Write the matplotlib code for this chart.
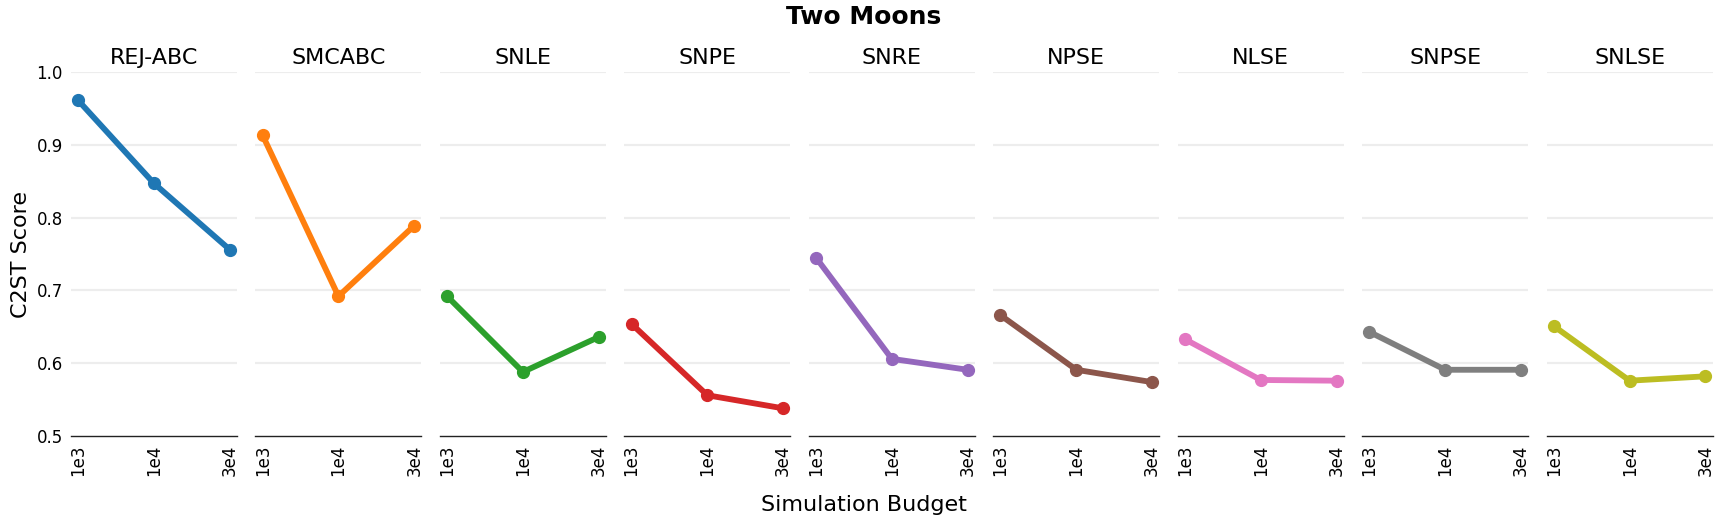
import matplotlib
matplotlib.use("Agg")
import matplotlib.pyplot as plt

methods = ["REJ-ABC", "SMCABC", "SNLE", "SNPE", "SNRE", "NPSE", "NLSE", "SNPSE", "SNLSE"]
budgets = ["1e3", "1e4", "3e4"]
scores = {
    "REJ-ABC": [0.961, 0.847, 0.756],
    "SMCABC":  [0.913, 0.692, 0.789],
    "SNLE":    [0.692, 0.588, 0.636],
    "SNPE":    [0.654, 0.556, 0.538],
    "SNRE":    [0.745, 0.606, 0.591],
    "NPSE":    [0.666, 0.591, 0.574],
    "NLSE":    [0.633, 0.577, 0.576],
    "SNPSE":   [0.643, 0.591, 0.591],
    "SNLSE":   [0.651, 0.576, 0.582],
}
colors = ["#1f77b4", "#ff7f0e", "#2ca02c", "#d62728", "#9467bd",
          "#8c564b", "#e377c2", "#7f7f7f", "#bcbd22"]
yticks = [0.5, 0.6, 0.7, 0.8, 0.9, 1.0]

fig, axes = plt.subplots(1, 9, figsize=(17.27, 5.2), dpi=100, sharey=True)
fig.subplots_adjust(left=0.0411, right=0.9917, bottom=0.1615, top=0.8615, wspace=0.111)

x = list(range(len(budgets)))
for i, (ax, m) in enumerate(zip(axes, methods)):
    for yt in yticks[1:]:
        ax.axhline(yt, color="#ededed", lw=1.6, zorder=0)
    ax.plot(x, scores[m], color=colors[i], lw=4.2, marker="o", ms=8.5, zorder=3,
            solid_capstyle="round")
    ax.set_xlim(-0.095, 2.095)
    ax.set_ylim(0.5, 1.0)
    ax.set_xticks(x)
    ax.set_xticklabels(budgets, rotation=90, fontsize=12)
    ax.set_yticks(yticks)
    ax.set_yticklabels([f"{v:.1f}" for v in yticks], fontsize=12)
    ax.tick_params(axis="both", length=0, pad=6)
    for s in ["top", "right", "left"]:
        ax.spines[s].set_visible(False)
    ax.spines["bottom"].set_color("#222222")
    ax.spines["bottom"].set_linewidth(1.0)
    ax.set_title(m, fontsize=16, pad=6)
    if i > 0:
        ax.tick_params(axis="y", labelleft=False)

axes[0].set_ylabel("C2ST Score", fontsize=16)
fig.suptitle("Two Moons", fontsize=18, fontweight="bold", y=0.99)
fig.supxlabel("Simulation Budget", fontsize=16, y=0.01)

fig.savefig("out.png", dpi=100)
